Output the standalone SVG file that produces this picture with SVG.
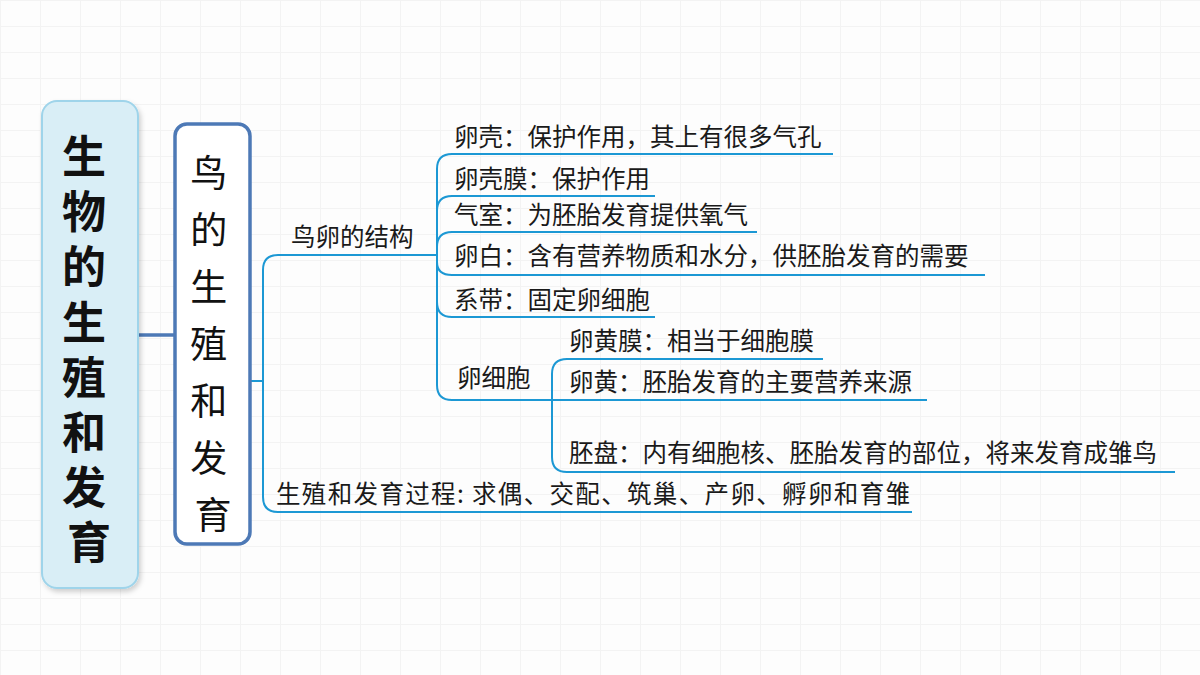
<svg xmlns="http://www.w3.org/2000/svg" width="1200" height="675" viewBox="0 0 1200 675">
  <defs>
    <pattern id="grid" width="40" height="26" patternUnits="userSpaceOnUse">
      <rect width="40" height="26" fill="#fdfdfd"/>
      <path d="M0 0.5 H40 M0.5 0 V26" stroke="#f3f3f3" stroke-width="1" fill="none"/>
    </pattern>
    <filter id="sh" x="-20%" y="-10%" width="140%" height="120%">
      <feDropShadow dx="2" dy="3" stdDeviation="2.5" flood-color="#000" flood-opacity="0.18"/>
    </filter>
  </defs>
  <style>
    .t { font-family: "Noto Sans CJK SC", "Noto Sans", sans-serif; font-size: 24.5px; fill: #1a1a1a; }
    .big { font-family: "Noto Sans CJK SC", "Noto Sans", sans-serif; font-size: 44px; font-weight: bold; fill: #111; text-anchor: middle; dominant-baseline: central; }
    .mid { font-family: "Noto Sans CJK SC", "Noto Sans", sans-serif; font-size: 37px; fill: #111; text-anchor: middle; dominant-baseline: central; }
    .ln { fill: none; stroke: #1c98d4; stroke-width: 2; }
    .dk { fill: none; stroke: #4d79b6; stroke-width: 3.5; }
  </style>
  <rect width="1200" height="675" fill="url(#grid)"/>

  <g id="connectors">
    <path class="dk" d="M138 335 H175"/>
    <path class="ln" d="M251 381 H263"/>
    <path class="ln" d="M263 381 V270 Q263 255 278 255 H437"/>
    <path class="ln" d="M263 381 V497 Q263 512 278 512 H912"/>
    <path class="ln" d="M437 255 V169 Q437 154 452 154 H833"/>
    <path class="ln" d="M437 255 V211 Q437 196 452 196 H655"/>
    <path class="ln" d="M437 255 V247 Q437 232 452 232 H757"/>
    <path class="ln" d="M437 255 V262 Q437 275 452 275 H985"/>
    <path class="ln" d="M437 255 V302 Q437 317 452 317 H655"/>
    <path class="ln" d="M437 255 V385 Q437 400 452 400 H552"/>
    <path class="ln" d="M552 400 V374 Q552 359 567 359 H823"/>
    <path class="ln" d="M552 400 H927"/>
    <path class="ln" d="M552 400 V457 Q552 472 567 472 H1175"/>
  </g>

  <g id="root">
    <rect x="42" y="101" width="96" height="487" rx="15" fill="#d9eef6" stroke="#9fd4ea" stroke-width="2" filter="url(#sh)"/>
    <text class="big">
      <tspan x="89" y="154">生</tspan>
      <tspan x="89" y="209">物</tspan>
      <tspan x="89" y="264">的</tspan>
      <tspan x="89" y="320">生</tspan>
      <tspan x="89" y="375">殖</tspan>
      <tspan x="89" y="430">和</tspan>
      <tspan x="89" y="485">发</tspan>
      <tspan x="89" y="540">育</tspan>
    </text>
  </g>

  <g id="bird">
    <rect x="175" y="124" width="75" height="420" rx="12" fill="#ffffff" stroke="#4d79b6" stroke-width="3.5"/>
    <text class="mid">
      <tspan x="213" y="171">鸟</tspan>
      <tspan x="213" y="228">的</tspan>
      <tspan x="213" y="285">生</tspan>
      <tspan x="213" y="342">殖</tspan>
      <tspan x="213" y="399">和</tspan>
      <tspan x="213" y="456">发</tspan>
      <tspan x="213" y="513">育</tspan>
    </text>
  </g>

  <g id="structure"><text class="t" x="291" y="246">鸟卵的结构</text></g>
  <g id="shell"><text class="t" x="454" y="146">卵壳：保护作用，其上有很多气孔</text></g>
  <g id="membrane"><text class="t" x="454" y="188">卵壳膜：保护作用</text></g>
  <g id="air"><text class="t" x="454" y="224">气室：为胚胎发育提供氧气</text></g>
  <g id="white"><text class="t" x="454" y="265">卵白：含有营养物质和水分，供胚胎发育的需要</text></g>
  <g id="chalaza"><text class="t" x="454" y="309">系带：固定卵细胞</text></g>
  <g id="eggcell"><text class="t" x="457" y="387">卵细胞</text></g>
  <g id="yolkmem"><text class="t" x="569" y="350">卵黄膜：相当于细胞膜</text></g>
  <g id="yolk"><text class="t" x="569" y="391">卵黄：胚胎发育的主要营养来源</text></g>
  <g id="disc"><text class="t" x="569" y="462">胚盘：内有细胞核、胚胎发育的部位，将来发育成雏鸟</text></g>
  <g id="process"><text class="t" x="276" y="503" textLength="634" lengthAdjust="spacing">生殖和发育过程: 求偶、交配、筑巢、产卵、孵卵和育雏</text></g>
</svg>
